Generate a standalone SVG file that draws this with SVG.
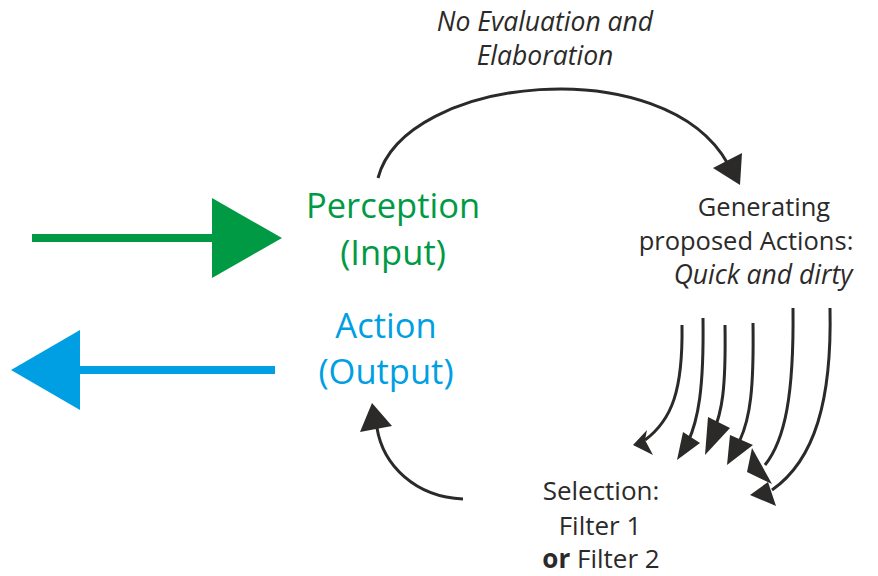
<svg xmlns="http://www.w3.org/2000/svg" width="878" height="576" viewBox="0 0 878 576">
<style>
text{font-family:"Open Sans","Noto Sans","Liberation Sans",sans-serif;text-anchor:middle;}
.big{font-size:34.5px;}
.sm{font-size:25.5px;fill:#2b2a29;}
.sel{font-size:26px;fill:#2b2a29;}
.it{font-style:italic;font-size:26.5px;}
.g{fill:#009a44;}
.b{fill:#009fe3;}
.ln{fill:none;stroke:#2b2a29;stroke-width:3;stroke-linecap:butt;}
.hd{fill:#2b2a29;}
</style>
<rect width="878" height="576" fill="#ffffff"/>
<g id="input-arrow">
<line x1="32" y1="238" x2="214" y2="238" stroke="#009a44" stroke-width="8"/>
<polygon points="212,198 282,238 212,278" fill="#009a44"/>
</g>
<g id="output-arrow">
<line x1="275" y1="370" x2="78" y2="370" stroke="#009fe3" stroke-width="8"/>
<polygon points="80,330 11,370 80,410" fill="#009fe3"/>
</g>
<g id="perception">
<text class="big g" x="393" y="218">Perception</text>
<text class="big g" x="393" y="265">(Input)</text>
</g>
<g id="action">
<text class="big b" x="386" y="338">Action</text>
<text class="big b" x="386" y="384">(Output)</text>
</g>
<g id="generating">
<text class="sm" x="764" y="216">Generating</text>
<text class="sm" x="746" y="250">proposed Actions:</text>
<text class="sm it" x="763" y="284">Quick and dirty</text>
</g>
<g id="selection">
<text class="sel" x="601" y="500">Selection:</text>
<text class="sel" x="600" y="535">Filter 1</text>
<text class="sel" x="601" y="568"><tspan font-weight="bold">or</tspan> Filter 2</text>
</g>
<g id="no-evaluation">
<text class="sm it" x="545" y="31">No Evaluation and</text>
<text class="sm it" x="545" y="65">Elaboration</text>
</g>
<g id="connectors">
<path class="ln" d="M378,178 C405,75 665,50 728,164"/>
<polygon class="hd" points="713,168 742,153 740,185"/>
<path class="ln" d="M463,499 C415,497 383,465 377,428"/>
<polygon class="hd" points="372,403 360,432 392,426"/>
<path class="ln" d="M682,325 C683,390 672,420 645,440"/>
<polygon class="hd" points="633,445 647,430 645,440 653,455"/>
<path class="ln" d="M703,318 C704,390 698,420 688,442"/>
<polygon class="hd" points="677,460 683,432 700,443"/>
<path class="ln" d="M725,325 C726,390 722,412 713,433"/>
<polygon class="hd" points="705,455 708,417 730,428"/>
<path class="ln" d="M753,323 C754,390 750,418 740,440"/>
<polygon class="hd" points="727,465 730,435 753,445"/>
<path class="ln" d="M793,308 C794,395 785,440 765,465"/>
<polygon class="hd" points="752,448 747,472 772,484"/>
<path class="ln" d="M830,308 C832,400 815,460 772,490"/>
<polygon class="hd" points="750,495 768,482 776,506"/>
</g>
</svg>
